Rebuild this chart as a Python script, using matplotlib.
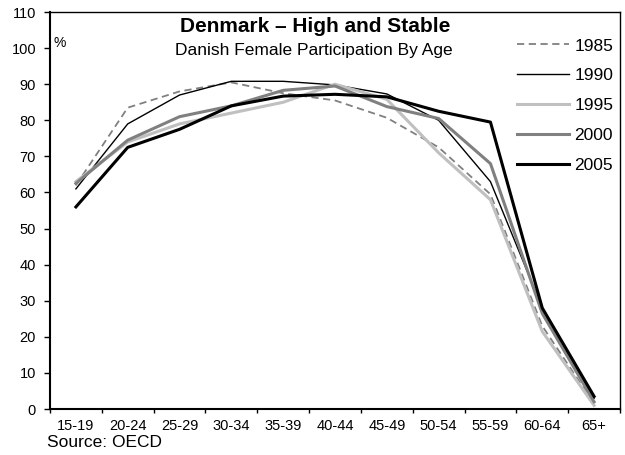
import matplotlib.pyplot as plt
import numpy as np

plt.rcParams['font.family'] = ['Liberation Sans', 'DejaVu Sans']

ages = ['15-19', '20-24', '25-29', '30-34', '35-39', '40-44',
        '45-49', '50-54', '55-59', '60-64', '65+']

y1985 = [62, 83.5, 88, 90.5, 87.5, 85.5, 80.7, 72.5, 59.5, 23, 1.5]
y1990 = [61, 79, 87, 90.8, 90.8, 89.8, 87.3, 80, 63, 28, 3]
y1995 = [63, 74, 79, 82, 85, 90, 85.8, 71, 58, 21.5, 1]
y2000 = [62.5, 74.5, 81, 84, 88.3, 89.5, 83.8, 80.5, 68, 26.5, 2]
y2005 = [56, 72.5, 77.5, 84, 86.7, 87.2, 86.5, 82.5, 79.5, 28, 3.5]

series = [
    ('1985', y1985, dict(color='#808080', lw=1.3, ls=(0, (4, 2.5)))),
    ('1990', y1990, dict(color='black', lw=1.0)),
    ('1995', y1995, dict(color='#c0c0c0', lw=2.2)),
    ('2000', y2000, dict(color='#808080', lw=2.2)),
    ('2005', y2005, dict(color='black', lw=2.2)),
]

fig = plt.figure(figsize=(6.25, 4.55), dpi=100)
ax = fig.add_axes([0.08, 0.101, 0.912, 0.8726])

x = np.arange(len(ages))
for name, vals, style in series:
    ax.plot(x, vals, label=name, **style)

ax.set_xlim(-0.5, len(ages) - 0.5)
ax.set_ylim(0, 110)
ax.set_yticks(np.arange(0, 111, 10))

# category labels at centres, tick marks between categories
ax.set_xticks(x)
ax.set_xticklabels(ages, fontsize=10.5)
ax.tick_params(axis='x', which='major', length=0, pad=7)
ax.set_xticks(np.arange(-0.5, len(ages)), minor=True)
ax.tick_params(axis='x', which='minor', length=3, width=1, direction='out')
ax.tick_params(axis='y', length=4, width=1, direction='out', pad=6, labelsize=10.5)

for s in ax.spines.values():
    s.set_linewidth(1.0)
ax.spines['left'].set_linewidth(1.5)
ax.spines['bottom'].set_linewidth(1.5)

fig.text(0.504, 0.942, 'Denmark \u2013 High and Stable', ha='center', va='center',
         fontsize=15, fontweight='bold')
fig.text(0.502, 0.890, 'Danish Female Participation By Age', ha='center', va='center',
         fontsize=12.5)
fig.text(0.085, 0.905, '%', ha='left', va='center', fontsize=10)
fig.text(0.075, 0.011, 'Source: OECD', ha='left', va='bottom', fontsize=12.5)

ax.legend(loc='upper left', bbox_to_anchor=(0.802, 0.950), bbox_transform=fig.transFigure,
          frameon=False, fontsize=12.5, handlelength=3.0, handletextpad=0.3,
          labelspacing=0.85, borderpad=0.4)

fig.savefig('out.png', dpi=100)
